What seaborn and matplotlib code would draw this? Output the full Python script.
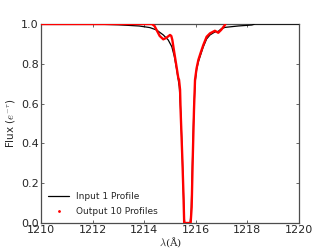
import numpy as np
import pandas as pd
import matplotlib
matplotlib.use("Agg")
import matplotlib.pyplot as plt
import seaborn as sns
from matplotlib.lines import Line2D

# === DATA
lam_in = [1210.0, 1212.0, 1213.0, 1213.8, 1214.22, 1214.48, 1214.74, 1214.93,
          1215.07, 1215.17, 1215.26, 1215.36, 1215.42, 1215.48, 1215.52, 1215.55,
          1215.57, 1215.78, 1215.82, 1215.87, 1215.92, 1215.97, 1216.03, 1216.10,
          1216.20, 1216.29, 1216.42, 1216.55, 1216.74, 1216.87, 1216.98, 1217.13,
          1217.64, 1218.17, 1218.3, 1220.0]
flux_in = [1.0, 1.0, 0.996, 0.99, 0.982, 0.97, 0.945, 0.92,
           0.886, 0.836, 0.77, 0.685, 0.55, 0.32, 0.15, 0.03,
           0.0, 0.0, 0.05, 0.30, 0.55, 0.70, 0.77, 0.81,
           0.85, 0.885, 0.925, 0.945, 0.96, 0.963, 0.975, 0.983,
           0.99, 0.995, 1.0, 1.0]

lam_out = [1210.0, 1214.30, 1214.40, 1214.50, 1214.60, 1214.74, 1214.85, 1215.00,
           1215.05, 1215.09, 1215.17, 1215.26, 1215.32, 1215.35, 1215.39, 1215.41,
           1215.48, 1215.52, 1215.54, 1215.55, 1215.80, 1215.84, 1215.88, 1215.93,
           1215.97, 1216.03, 1216.10, 1216.20, 1216.29, 1216.42, 1216.55, 1216.74,
           1216.87, 1216.98, 1217.10, 1217.15]
flux_out = [1.0, 1.0, 0.99, 0.965, 0.94, 0.923, 0.93, 0.945,
            0.94, 0.92, 0.853, 0.78, 0.73, 0.72, 0.67, 0.57,
            0.317, 0.15, 0.05, 0.0, 0.0, 0.08, 0.317, 0.57,
            0.72, 0.777, 0.82, 0.86, 0.894, 0.936, 0.953, 0.966,
            0.956, 0.97, 0.99, 1.0]

x_ticks = [1210, 1212, 1214, 1216, 1218, 1220]
y_ticks = [0.0, 0.2, 0.4, 0.6, 0.8, 1.0]

# === STYLE
sns.set_style("ticks")
plt.rcParams.update({
    "font.family": ["DejaVu Sans"],
    "font.size": 8,
    "mathtext.fontset": "cm",
    "xtick.direction": "in",
    "ytick.direction": "in",
    "xtick.top": True,
    "ytick.right": True,
    "xtick.major.size": 2.5,
    "ytick.major.size": 2.5,
    "axes.edgecolor": "0.3",
    "axes.linewidth": 0.9,
})

df_in = pd.DataFrame({"lam": lam_in, "flux": flux_in})
df_out = pd.DataFrame({"lam": lam_out, "flux": flux_out})

fig = plt.figure(figsize=(3.32, 2.49), dpi=100)
ax = fig.add_axes([0.1235, 0.1044, 0.7771, 0.7992])

sns.lineplot(data=df_in, x="lam", y="flux", ax=ax, color="black", lw=0.9,
             sort=False, estimator=None, zorder=3)
sns.lineplot(data=df_out, x="lam", y="flux", ax=ax, color="red", lw=1.7,
             sort=False, estimator=None, zorder=4)

ax.set_xlim(1210, 1220)
ax.set_ylim(0, 1.0)
ax.set_xticks(x_ticks)
ax.set_yticks(y_ticks)
ax.set_xticklabels([str(t) for t in x_ticks], fontsize=8)
ax.set_yticklabels([f"{t:.1f}" for t in y_ticks], fontsize=8)
ax.tick_params(pad=1.5, width=0.6, color="0.3")
ax.set_xlabel(r"$\lambda$(Å)", fontsize=7.5, family="DejaVu Serif", labelpad=0)
ax.set_ylabel(r"Flux ($e^{-\tau}$)", fontsize=7.5, labelpad=3)

handles = [Line2D([], [], color="black", lw=0.9),
           Line2D([], [], color="red", marker=".", ls="none", ms=2)]
ax.legend(handles, ["Input 1 Profile", "Output 10 Profiles"], loc="lower left",
          frameon=False, fontsize=6.5, handlelength=2.3, borderaxespad=0.4,
          labelspacing=0.6, bbox_to_anchor=(0.0, 0.0))

fig.savefig("out.png", dpi=100)
